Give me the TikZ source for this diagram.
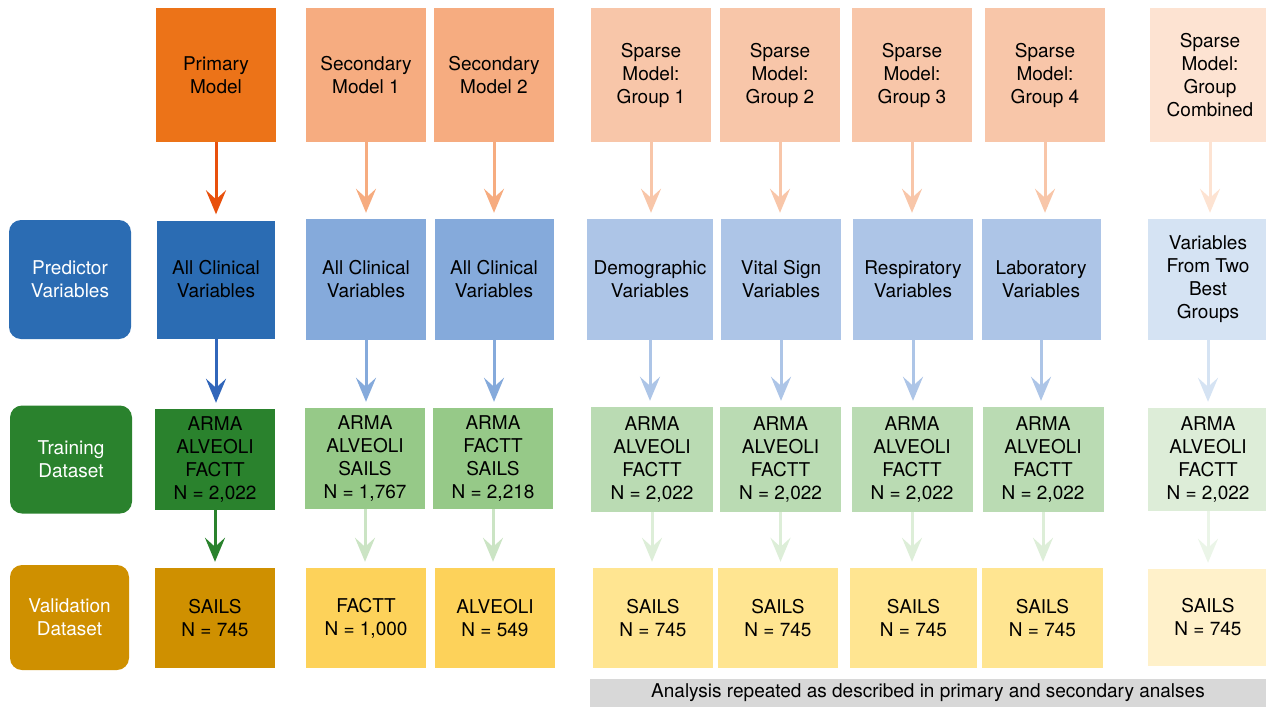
\documentclass[tikz,border=0pt]{standalone}
\usepackage{fontspec}
\setmainfont{TeX Gyre Heros}
\usetikzlibrary{arrows.meta}
\definecolor{orgA}{HTML}{EC7318}
\definecolor{orgAarr}{HTML}{E8500C}
\definecolor{orgB}{HTML}{F6AC80}
\definecolor{orgC}{HTML}{F8C6A9}
\definecolor{orgD}{HTML}{FDE3D2}
\definecolor{bluA}{HTML}{2B6CB3}
\definecolor{bluAarr}{HTML}{3166BA}
\definecolor{bluB}{HTML}{85AADB}
\definecolor{bluC}{HTML}{ADC5E7}
\definecolor{bluD}{HTML}{D5E3F3}
\definecolor{grnA}{HTML}{2A822D}
\definecolor{grnB}{HTML}{96C988}
\definecolor{grnBarr}{HTML}{CBE4C4}
\definecolor{grnC}{HTML}{BADBB3}
\definecolor{grnCarr}{HTML}{DDEED8}
\definecolor{grnD}{HTML}{DDEDD8}
\definecolor{grnDarr}{HTML}{EBF5E8}
\definecolor{ylwA}{HTML}{CF9000}
\definecolor{ylwB}{HTML}{FDD25A}
\definecolor{ylwC}{HTML}{FFE591}
\definecolor{ylwD}{HTML}{FFF1CA}
\definecolor{barGrey}{HTML}{D8D8D8}

\tikzset{
  box/.style={minimum width=120pt, inner sep=0pt, align=center, font=\fontsize{19}{23}\selectfont},
  rowA/.style={box, minimum height=134pt},
  rowB/.style={box, minimum height=121pt},
  rowC/.style={box, minimum height=104pt},
  rowD/.style={box, minimum height=100pt},
  lbl/.style={box, rounded corners=12pt, minimum width=122pt, text=white},
  arr/.style={line width=3pt, shorten >=6pt, -{Stealth[length=24pt, width=20pt, inset=9pt]}}
}

\begin{document}
\begin{tikzpicture}[x=1pt,y=-1pt]
\useasboundingbox (0,0) rectangle (1266,707);
\clip (0,0) rectangle (1266,707);

% row labels
\node[lbl, fill=bluA, minimum height=119pt] (lpred) at (70,279.5) {Predictor\\Variables};
\node[lbl, fill=grnA, minimum height=108pt] (ltrain) at (71,459.5) {Training\\Dataset};
\node[lbl, fill=ylwA, minimum width=119pt, minimum height=105pt] (lval) at (69.5,617.5) {Validation\\Dataset};

% models
\node[rowA, fill=orgA] (pm) at (216,75) {Primary\\Model};
\node[rowA, fill=orgB] (sm1) at (366,75) {Secondary\\Model 1};
\node[rowA, fill=orgB] (sm2) at (494,75) {Secondary\\Model 2};
\node[rowA, fill=orgC] (sg1) at (651,75) {Sparse\\Model:\\Group 1};
\node[rowA, fill=orgC] (sg2) at (780,75) {Sparse\\Model:\\Group 2};
\node[rowA, fill=orgC] (sg3) at (912,75) {Sparse\\Model:\\Group 3};
\node[rowA, fill=orgC] (sg4) at (1045,75) {Sparse\\Model:\\Group 4};
\node[rowA, fill=orgD] (sgc) at (1210,75) {Sparse\\Model:\\Group\\Combined};

% predictor variables
\node[rowB, fill=bluA, minimum width=118pt, minimum height=118pt] (pv) at (216,279.5) {All Clinical\\Variables};
\node[rowB, fill=bluB] (sv1) at (366,279.5) {All Clinical\\Variables};
\node[rowB, fill=bluB, minimum width=119pt] (sv2) at (494,279.5) {All Clinical\\Variables};
\node[rowB, fill=bluC, minimum width=126pt] (gv1) at (650,279.5) {Demographic\\Variables};
\node[rowB, fill=bluC] (gv2) at (781,279.5) {Vital Sign\\Variables};
\node[rowB, fill=bluC] (gv3) at (913,279.5) {Respiratory\\Variables};
\node[rowB, fill=bluC, minimum width=119pt] (gv4) at (1041,279.5) {Laboratory\\Variables};
\node[rowB, fill=bluD] (gvc) at (1208,279.5) {Variables\\From Two\\Best\\Groups};

% training data
\node[rowC, fill=grnA, minimum height=101pt] (pt) at (215,459.5) {ARMA\\ALVEOLI\\FACTT\\N = 2,022};
\node[rowC, fill=grnB, minimum height=101pt] (st1) at (365,458.5) {ARMA\\ALVEOLI\\SAILS\\N = 1,767};
\node[rowC, fill=grnB, minimum height=101pt] (st2) at (493,458.5) {ARMA\\FACTT\\SAILS\\N = 2,218};
\node[rowC, fill=grnC, minimum width=122pt, minimum height=105pt] (gt1) at (652,459.5) {ARMA\\ALVEOLI\\FACTT\\N = 2,022};
\node[rowC, fill=grnC, minimum width=121pt, minimum height=105pt] (gt2) at (780.5,459.5) {ARMA\\ALVEOLI\\FACTT\\N = 2,022};
\node[rowC, fill=grnC, minimum width=121pt, minimum height=105pt] (gt3) at (912,459.5) {ARMA\\ALVEOLI\\FACTT\\N = 2,022};
\node[rowC, fill=grnC, minimum width=121pt, minimum height=105pt] (gt4) at (1043,459.5) {ARMA\\ALVEOLI\\FACTT\\N = 2,022};
\node[rowC, fill=grnD, minimum height=103pt] (gtc) at (1208,459.5) {ARMA\\ALVEOLI\\FACTT\\N = 2,022};

% validation data
\node[rowD, fill=ylwA] (pval) at (215,618) {SAILS\\N = 745};
\node[rowD, fill=ylwB] (sval1) at (366,618) {FACTT\\N = 1,000};
\node[rowD, fill=ylwB] (sval2) at (495,618) {ALVEOLI\\N = 549};
\node[rowD, fill=ylwC] (gval1) at (653,618) {SAILS\\N = 745};
\node[rowD, fill=ylwC] (gval2) at (778,618) {SAILS\\N = 745};
\node[rowD, fill=ylwC, minimum width=127pt] (gval3) at (913.5,618) {SAILS\\N = 745};
\node[rowD, fill=ylwC, minimum width=121pt] (gval4) at (1042.5,618) {SAILS\\N = 745};
\node[rowD, fill=ylwD, minimum height=97pt] (gvalc) at (1208,617.5) {SAILS\\N = 745};

\node[box, fill=barGrey, minimum width=676pt, minimum height=28pt] (note) at (928,693) {Analysis repeated as described in primary and secondary analses};

% model -> predictors
\draw[arr, orgAarr] (pm.south) -- (pv.north);
\draw[arr, orgB] (sm1.south) -- (sv1.north);
\draw[arr, orgB] (sm2.south) -- (sv2.north);
\draw[arr, orgC] (sg1.south) -- (sg1.south |- gv1.north);
\draw[arr, orgC] (sg2.south) -- (sg2.south |- gv2.north);
\draw[arr, orgC] (sg3.south) -- (sg3.south |- gv3.north);
\draw[arr, orgC] (sg4.south) -- (sg4.south |- gv4.north);
\draw[arr, orgD] (sgc.south) -- (sgc.south |- gvc.north);

% predictors -> training
\draw[arr, bluAarr] (pv.south) -- (pv.south |- pt.north);
\draw[arr, bluB] (sv1.south) -- (sv1.south |- st1.north);
\draw[arr, bluB] (sv2.south) -- (sv2.south |- st2.north);
\draw[arr, bluC] (gv1.south) -- (gv1.south |- gt1.north);
\draw[arr, bluC] (gv2.south) -- (gv2.south |- gt2.north);
\draw[arr, bluC] (gv3.south) -- (gv3.south |- gt3.north);
\draw[arr, bluC] (gv4.south) -- (gv4.south |- gt4.north);
\draw[arr, bluD] (gvc.south) -- (gvc.south |- gtc.north);

% training -> validation
\draw[arr, grnA] (pt.south) -- (pt.south |- pval.north);
\draw[arr, grnBarr] (st1.south) -- (st1.south |- sval1.north);
\draw[arr, grnBarr] (st2.south) -- (st2.south |- sval2.north);
\draw[arr, grnCarr] (gt1.south) -- (gt1.south |- gval1.north);
\draw[arr, grnCarr] (gt2.south) -- (gt2.south |- gval2.north);
\draw[arr, grnCarr] (gt3.south) -- (gt3.south |- gval3.north);
\draw[arr, grnCarr] (gt4.south) -- (gt4.south |- gval4.north);
\draw[arr, grnDarr] (gtc.south) -- (gtc.south |- gvalc.north);
\end{tikzpicture}
\end{document}
